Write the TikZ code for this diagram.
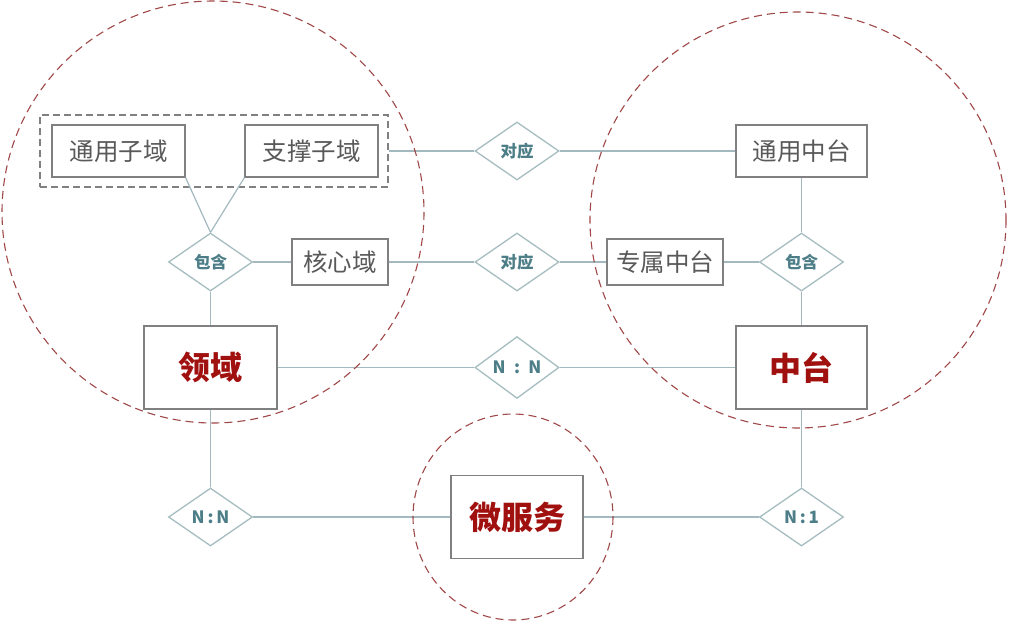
\documentclass[tikz,border=0pt]{standalone}
\usepackage{fontspec}
\setmainfont{Noto Sans CJK SC}
\newfontfamily\cjk{Noto Sans CJK SC}
\usetikzlibrary{shapes.geometric}
\definecolor{linec}{HTML}{A3B9BF}
\definecolor{boxc}{HTML}{808080}
\definecolor{boxtxt}{HTML}{595959}
\definecolor{redtxt}{HTML}{A0100F}
\definecolor{dmc}{HTML}{A6BDC0}
\definecolor{dmtxt}{HTML}{4D7E88}
\definecolor{circc}{HTML}{A04848}
\tikzset{
  every node/.style={font=\cjk},
  ebox/.style={draw=boxc, line width=1.1pt, fill=white, rectangle, inner sep=0pt, text=boxtxt, font=\cjk\fontsize{24.5pt}{28pt}\selectfont},
  bigbox/.style={draw=boxc, line width=1.1pt, fill=white, rectangle, inner sep=0pt, minimum width=133pt, minimum height=83pt, text=redtxt, font=\cjk\bfseries\fontsize{32pt}{36pt}\selectfont},
  rel/.style={draw=dmc, line width=1.3pt, fill=white, diamond, inner sep=0pt, minimum width=84pt, minimum height=58pt, text=dmtxt, font=\cjk\bfseries\fontsize{16.5pt}{18pt}\selectfont},
  ratio/.style={rel, font=\cjk\bfseries\fontsize{17pt}{18pt}\selectfont},
  conn/.style={draw=linec, line width=1.2pt},
  zone/.style={draw=circc, line width=1.1pt, dash pattern=on 8pt off 5pt},
}
\begin{document}
\begin{tikzpicture}[x=1pt,y=-1pt]
\useasboundingbox (0,0) rectangle (1009,621);
\fill[white] (0,0) rectangle (1009,621);
% dashed group
\node[draw=boxc, line width=1.5pt, dash pattern=on 7pt off 4pt, minimum width=348pt, minimum height=72pt, inner sep=0pt] (grp) at (214,151) {};
% entities
\node[ebox, minimum width=133pt, minimum height=52pt] (tyzy) at (118.5,151) {通用子域};
\node[ebox, minimum width=133pt, minimum height=52pt] (zczy) at (311.5,151) {支撑子域};
\node[ebox, minimum width=96pt, minimum height=46pt] (hxy) at (340,262) {核心域};
\node[bigbox] (ly) at (210.5,367.5) {领域};
\node[ebox, minimum width=131pt, minimum height=52pt] (tyzt) at (801.5,151) {通用中台};
\node[ebox, minimum width=116pt, minimum height=46pt] (zszt) at (665,262) {专属中台};
\node[bigbox, minimum width=131pt] (zt) at (801.5,367.5) {中台};
\node[bigbox, minimum width=132pt] (wfw) at (517,517) {微服务};
% relationships
\node[rel] (bh1) at (210.5,262) {包含};
\node[rel] (dy1) at (517,151) {对应};
\node[rel] (dy2) at (517,262) {对应};
\node[ratio] (nn1) at (517,367.5) {N\enspace:\enspace N};
\node[rel] (bh2) at (801.5,262) {包含};
\node[ratio] (nn2) at (210.5,517) {N\,:\,N};
\node[ratio] (n1) at (801.5,517) {N\,:\,1};
% connectors
\draw[conn] (tyzy.south east) -- (bh1.north);
\draw[conn] (zczy.south west) -- (bh1.north);
\draw[conn] (bh1.east) -- (hxy.west);
\draw[conn] (bh1.south) -- (ly.north);
\draw[conn] (grp.east) -- (dy1.west);
\draw[conn] (dy1.east) -- (tyzt.west);
\draw[conn] (hxy.east) -- (dy2.west);
\draw[conn] (dy2.east) -- (zszt.west);
\draw[conn] (zszt.east) -- (bh2.west);
\draw[conn] (tyzt.south) -- (bh2.north);
\draw[conn] (bh2.south) -- (zt.north);
\draw[conn] (ly.east) -- (nn1.west);
\draw[conn] (nn1.east) -- (zt.west);
\draw[conn] (ly.south) -- (nn2.north);
\draw[conn] (nn2.east) -- (wfw.west);
\draw[conn] (wfw.east) -- (n1.west);
\draw[conn] (n1.north) -- (zt.south);
% zones
\draw[zone] (213,212) circle (211);
\draw[zone] (798,220) circle (208);
\draw[zone] (513,517) ellipse (100 and 103);
\end{tikzpicture}
\end{document}
